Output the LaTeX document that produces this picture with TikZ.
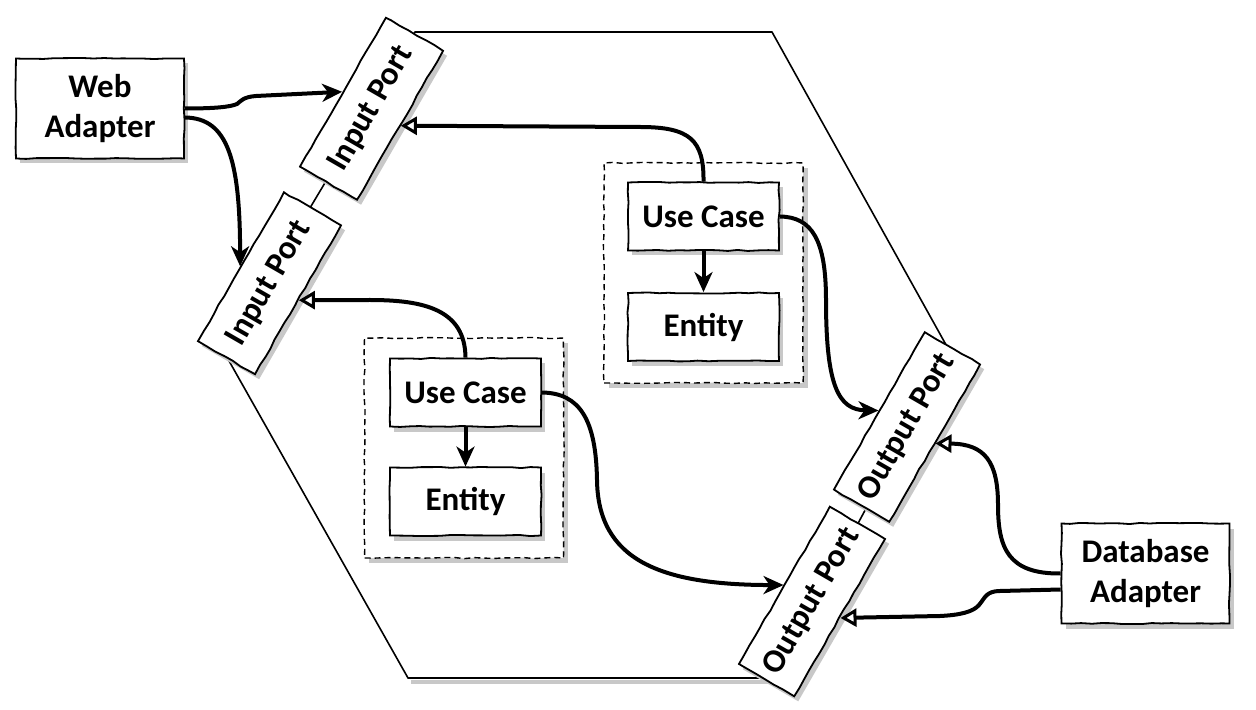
\documentclass[tikz,border=0pt]{standalone}
\usepackage{fontspec}
\setmainfont{Carlito}
\usetikzlibrary{arrows.meta,calc,decorations.pathmorphing}
\definecolor{shd}{RGB}{200,200,200}
\begin{document}
\begin{tikzpicture}[x=0.5pt,y=-0.5pt,
  lbl/.style={font=\fontsize{16.5}{20}\selectfont\bfseries, align=center},
  sketch/.style={decorate, decoration={random steps, segment length=5pt, amplitude=0.3pt}},
  box/.style={lbl, draw, fill=white, line width=0.9pt, inner sep=0pt, rectangle, sketch},
  sbox/.style={fill=shd, draw=none, inner sep=0pt, rectangle},
  cont/.style={draw, fill=white, dash pattern=on 3pt off 2pt, line width=0.7pt, inner sep=0pt, rectangle, sketch},
  adapter/.style={minimum width=84pt, minimum height=50pt},
  ucsize/.style={minimum width=75.5pt, minimum height=34pt},
  contsize/.style={minimum width=99.5pt, minimum height=110pt},
  portin/.style={rotate=60, minimum width=86pt, minimum height=33pt},
  portout/.style={rotate=60, minimum width=91pt, minimum height=32pt},
  arr/.style={line width=2pt, -{Stealth[length=10pt,width=9pt,inset=3pt]}},
  oarr/.style={line width=2pt, -{Triangle[open,length=8pt,width=9pt,line width=1.5pt,fill=white]}},
  hexline/.style={line width=0.8pt, line join=round}
]
\pgfmathsetseed{11}
\useasboundingbox (0,0) rectangle (1256,710);

% hexagon
\coordinate (h1) at (415,32);
\coordinate (h2) at (772,32);
\coordinate (h3) at (950,352);
\coordinate (h4) at (775,678);
\coordinate (h5) at (408,678);
\coordinate (h6) at (224,352);
\draw[shd, line width=2pt] ($(h5)+(3,3.5)$) -- ($(h4)+(3,3.5)$);
\draw[hexline] (h1) -- (h2) -- (h3) -- (h4) -- (h5) -- (h6) -- cycle;

% containers
\node[sbox, contsize] (c1s) at (708,278) {};
\node[cont, contsize] (c1) at (703.5,273) {};
\node[sbox, contsize] (c2s) at (468,453) {};
\node[cont, contsize] (c2) at (464,448) {};

% shadows
\node[sbox, adapter] (was) at (104,113.5) {};
\node[sbox, adapter] (dbs) at (1149.5,578.5) {};
\node[sbox, ucsize] (uc1s) at (707.5,221.5) {};
\node[sbox, ucsize] (en1s) at (707.5,332) {};
\node[sbox, ucsize] (uc2s) at (469.5,397.5) {};
\node[sbox, ucsize] (en2s) at (469.5,506.5) {};
\node[sbox, portin] (ip1s) at (375.5,113.75) {};
\node[sbox, portin] (ip2s) at (273.5,288.25) {};
\node[sbox, portout] (op1s) at (911,432) {};
\node[sbox, portout] (op2s) at (816,606.5) {};

% boxes
\node[box, adapter] (wa) at (100,108.5) {Web\\Adapter};
\node[box, adapter] (db) at (1145.5,573.5) {Database\\Adapter};
\node[box, ucsize] (uc1) at (703.5,216.5) {Use Case};
\node[box, ucsize] (en1) at (703.5,327) {Entity};
\node[box, ucsize] (uc2) at (465.5,392.5) {Use Case};
\node[box, ucsize] (en2) at (465.5,501.5) {Entity};
\node[box, portin] (ip1) at (371.5,108.75) {Input Port};
\node[box, portin] (ip2) at (269.5,283.25) {Input Port};
\node[box, portout] (op1) at (907,427) {Output Port};
\node[box, portout] (op2) at (812,601.5) {Output Port};

% connectors
\draw[arr] (wa.east) .. controls (215,108.5) and (230,107) .. (237,104)
  .. controls (241,101) and (243,97) .. (256,96) -- (ip1.north);
\draw[arr] ($(wa.east)+(0,9)$) .. controls (228,118) and (240,160) .. (ip2.north);
\draw[oarr] (uc1.north) .. controls (704,140) and (690,127) .. (640,127) -- (ip1.south);
\draw[oarr] (uc2.north) .. controls (465,310) and (425,300) .. (370,300) -- (ip2.south);
\draw[arr] (uc1.east) .. controls (812,217) and (826,240) .. (826,300)
  .. controls (826,385) and (838,410) .. (op1.north);
\draw[arr] (uc2.east) .. controls (580,393) and (596,420) .. (597,480)
  .. controls (598,560) and (660,585) .. (op2.north);
\draw[oarr] (db.west) .. controls (1008,574) and (998,548) .. (998,505)
  .. controls (998,462) and (985,444) .. (op1.south);
\draw[oarr] ($(db.west)+(0,16)$) -- (1000,591) .. controls (986,591) and (985,598) .. (979,605)
  .. controls (973,612) and (960,615) .. (940,616) -- (op2.south);
\draw[arr] (uc1.south) -- (en1.north);
\draw[arr] (uc2.south) -- (en2.north);
\end{tikzpicture}
\end{document}
